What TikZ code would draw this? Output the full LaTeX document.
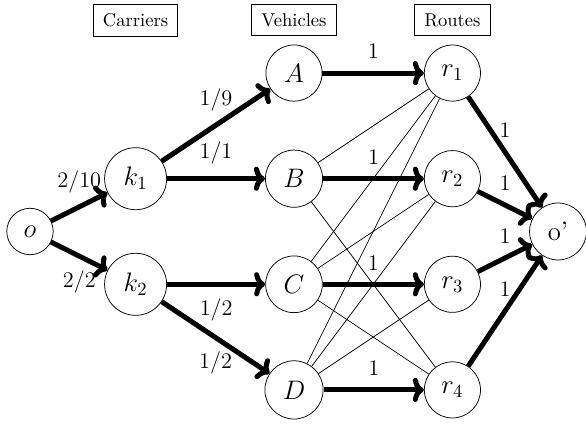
\documentclass[tikz,border=0pt]{standalone}
\usetikzlibrary{arrows.meta}
\begin{document}
\begin{tikzpicture}[
  vert/.style={circle,draw,inner sep=5.6pt,font=\Large},
  hdr/.style={draw,inner xsep=5.2pt,inner ysep=4.8pt,font=\normalsize},
  arr/.style={-{Computer Modern Rightarrow[length=6pt,width=13pt]},line width=2.7pt},
  cross/.style={thin},
  lab/.style={font=\fontsize{13}{16}\selectfont}
]
\useasboundingbox (-0.568,-3.684) rectangle (10.53,4.384);
% headers
\node[hdr] (hc) at (2,4) {Carriers};
\node[hdr] (hv) at (5,4) {Vehicles};
\node[hdr] (hr) at (8,4) {Routes};
% nodes
\node[vert] (o) at (0,0) {$o$};
\node[vert] (k1) at (2,1) {$k_1$};
\node[vert] (k2) at (2,-1) {$k_2$};
\node[vert] (A) at (5,3) {$A$};
\node[vert] (B) at (5,1) {$B$};
\node[vert] (C) at (5,-1) {$C$};
\node[vert] (D) at (5,-3) {$D$};
\node[vert] (r1) at (8,3) {$r_1$};
\node[vert] (r2) at (8,1) {$r_2$};
\node[vert] (r3) at (8,-1) {$r_3$};
\node[vert] (r4) at (8,-3) {$r_4$};
\node[vert] (op) at (10,0) {o’};
% thin cross links
\draw[cross] (B) -- (r1);
\draw[cross] (B) -- (r4);
\draw[cross] (C) -- (r1);
\draw[cross] (C) -- (r2);
\draw[cross] (C) -- (r4);
\draw[cross] (D) -- (r1);
\draw[cross] (D) -- (r2);
\draw[cross] (D) -- (r3);
% thick arrows
\draw[arr] (o) -- node[lab,above=3pt]{$2/10$} (k1);
\draw[arr] (o) -- node[lab,below=3pt]{$2/2$} (k2);
\draw[arr] (k1) -- node[lab,above=3pt]{$1/9$} (A);
\draw[arr] (k1) -- node[lab,above=3pt]{$1/1$} (B);
\draw[arr] (k2) -- node[lab,below=3pt]{$1/2$} (C);
\draw[arr] (k2) -- node[lab,below=3pt]{$1/2$} (D);
\draw[arr] (A) -- node[lab,above=3pt]{$1$} (r1);
\draw[arr] (B) -- node[lab,above=3pt]{$1$} (r2);
\draw[arr] (C) -- node[lab,above=3pt]{$1$} (r3);
\draw[arr] (D) -- node[lab,above=3pt]{$1$} (r4);
\draw[arr] (r1) -- node[lab,above=3pt]{$1$} (op);
\draw[arr] (r2) -- node[lab,above=3pt]{$1$} (op);
\draw[arr] (r3) -- node[lab,above=3pt]{$1$} (op);
\draw[arr] (r4) -- node[lab,above=3pt]{$1$} (op);
\end{tikzpicture}
\end{document}
